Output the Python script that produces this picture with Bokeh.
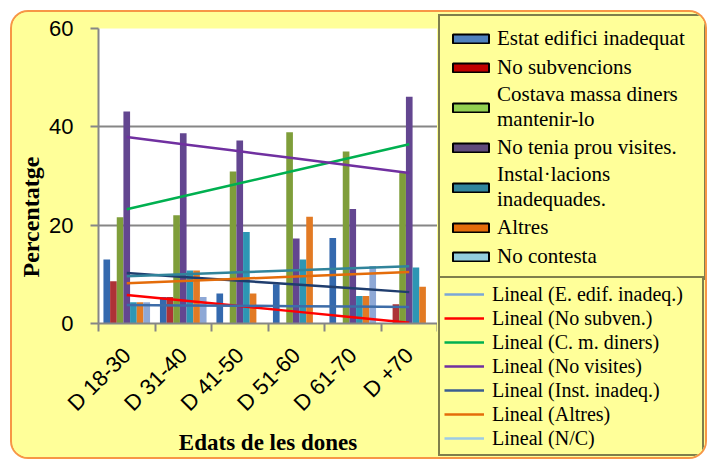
import numpy as np
from math import pi
from bokeh.plotting import figure
from bokeh.layouts import row
from bokeh.models import (Range1d, FixedTicker, Legend, LegendItem, Title,
                          ColumnDataSource)
from bokeh.transform import dodge
from bokeh.embed import file_html
from bokeh.resources import INLINE

# ---------------- data ----------------
categories = ["D 18-30", "D 31-40", "D 41-50", "D 51-60", "D 61-70", "D +70"]
series_names = ["Estat edifici inadequat", "No subvencions",
                "Costava massa diners\nmantenir-lo", "No tenia prou visites.",
                "Instal\u00b7lacions\ninadequades.", "Altres", "No contesta"]
estat_edifici = [13.0, 5.4, 6.1, 8.0, 17.4, 0.0]
no_subvencions = [8.6, 5.4, 0.0, 0.0, 0.0, 3.9]
costava_diners = [21.6, 22.0, 30.9, 38.9, 35.0, 30.7]
no_visites = [43.1, 38.7, 37.2, 17.3, 23.3, 46.1]
installacions = [4.3, 10.8, 18.6, 13.0, 5.6, 11.4]
altres = [4.3, 10.8, 6.1, 21.7, 5.6, 7.5]
no_contesta = [4.3, 5.4, 0.0, 0.0, 11.7, 0.0]
trend_names = ["Lineal (E. edif. inadeq.)", "Lineal (No subven.)",
               "Lineal (C. m. diners)", "Lineal (No visites)",
               "Lineal (Inst. inadeq.)", "Lineal (Altres)", "Lineal (N/C)"]
y_ticks = [0, 20, 40, 60]

series = [estat_edifici, no_subvencions, costava_diners, no_visites,
          installacions, altres, no_contesta]

# ---------------- styles ----------------
bar_colors = ["#3469AE", "#AE3236", "#7F9E3A", "#634690", "#2D96B4", "#E27A24", "#8EA8D6"]
legend_fill = ["#4F81BD", "#C00000", "#92D050", "#604A7B", "#31859C", "#E46C0A", "#93CDDD"]
trend_colors = ["#1F3D6E", "#FF0000", "#00B050", "#7030A0", "#31849B", "#E46C0A", "#3D6CA8"]
trend_legend_colors = ["#7BA7D7", "#FF0000", "#00B050", "#7030A0", "#3B5E91", "#E46C0A", "#9DCBE6"]
YELLOW = "#FFFF99"
GRAY = "#868686"
SANS = "Liberation Sans"
SERIF = "Liberation Serif"

n = len(categories)
centers = [i + 0.5 for i in range(n)]
src = ColumnDataSource({"x": centers, **{f"s{j}": s for j, s in enumerate(series)}})

# ---------------- main chart ----------------
p = figure(width=425, height=445, x_range=Range1d(0, n), y_range=Range1d(0, 60),
           output_backend="svg", toolbar_location=None,
           min_border_left=83, min_border_right=0, min_border_top=16,
           min_border_bottom=134, background_fill_color="white",
           border_fill_color=YELLOW, outline_line_color=None)
p.frame_align = False

ya = p.yaxis[0]
ya.ticker = FixedTicker(ticks=y_ticks)
ya.axis_line_color = GRAY
ya.axis_line_width = 2
ya.major_tick_line_color = GRAY
ya.major_tick_line_width = 2
ya.major_tick_out = 8
ya.major_tick_in = 0
ya.minor_tick_line_color = None
ya.major_label_standoff = 17
ya.major_label_text_font = SANS
ya.major_label_text_font_size = "22px"
ya.major_label_text_color = "black"

xa = p.xaxis[0]
xa.ticker = FixedTicker(ticks=centers, minor_ticks=list(range(n + 1)))
xa.major_label_overrides = {c: cat for c, cat in zip(centers, categories)}
xa.major_label_orientation = pi / 4
xa.major_label_standoff = 20
xa.major_label_text_font = SANS
xa.major_label_text_font_size = "22px"
xa.major_label_text_color = "black"
xa.axis_line_color = GRAY
xa.axis_line_width = 2
xa.major_tick_line_color = None
xa.major_tick_out = 8
xa.major_tick_in = 0
xa.minor_tick_line_color = GRAY
xa.minor_tick_line_width = 2
xa.minor_tick_out = 8
xa.minor_tick_in = 0
xa.axis_label = "Edats de les dones"
xa.axis_label_text_font = SERIF
xa.axis_label_text_font_style = "bold"
xa.axis_label_text_font_size = "23px"
xa.axis_label_text_color = "black"
xa.axis_label_standoff = 2

p.ygrid.ticker = FixedTicker(ticks=y_ticks)
p.ygrid.grid_line_color = GRAY
p.ygrid.grid_line_width = 2
p.xgrid.visible = False

# y title, placed lower along the axis like the original
p.add_layout(Title(text="Percentatge", align="left", offset=46,
                   text_font=SERIF, text_font_style="bold",
                   text_font_size="24px", text_color="black", standoff=6), "left")

# bars
bw = 0.825 / len(series)
for j, col in enumerate(bar_colors):
    p.vbar(x=dodge("x", (j - 3) * bw, range=p.x_range), top=f"s{j}", width=bw,
           source=src, fill_color=col, line_color=None)

# linear trend lines (least squares on each series)
idx = np.arange(1, n + 1)
for j, s in enumerate(series):
    coef = np.polyfit(idx, np.array(s), 1)
    p.line(x=centers, y=np.polyval(coef, idx), line_color=trend_colors[j], line_width=2.5)

# ---------------- legend panel ----------------
q = figure(width=268, height=445, x_range=Range1d(0, 1), y_range=Range1d(0, 1),
           output_backend="svg", toolbar_location=None,
           x_axis_location=None, y_axis_location=None,
           min_border=0, background_fill_color=YELLOW,
           border_fill_color=YELLOW, outline_line_color=None)
q.frame_align = False
q.grid.visible = False

# legend proxies (a single undrawn point each)
items1 = []
for j, name in enumerate(series_names):
    r = q.vbar(x=[np.nan], top=[np.nan], width=0.1, fill_color=legend_fill[j],
               line_color="black", line_width=2)
    items1.append(LegendItem(label=name, renderers=[r]))
items2 = []
for j, name in enumerate(trend_names):
    r = q.line(x=[np.nan], y=[np.nan], line_color=trend_legend_colors[j], line_width=2.5)
    items2.append(LegendItem(label=name, renderers=[r]))

leg1 = Legend(items=items1, location=(1, 177), padding=8, spacing=1,
              glyph_width=45, glyph_height=11, label_standoff=4,
              label_width=199, label_height=28,
              label_text_font=SERIF, label_text_font_size="21px",
              label_text_color="black",
              background_fill_color=YELLOW, background_fill_alpha=1,
              border_line_color="black", border_line_width=2)
leg2 = Legend(items=items2, location=(1, 1), padding=4, spacing=0,
              glyph_width=40, glyph_height=12, label_standoff=8,
              label_width=206, label_height=24,
              label_text_font=SERIF, label_text_font_size="20px",
              label_text_color="black",
              background_fill_color=YELLOW, background_fill_alpha=1,
              border_line_color="black", border_line_width=2)
q.add_layout(leg1, "center")
q.add_layout(leg2, "center")

layout = row(p, q, spacing=0,
             styles={"margin-left": "12px", "margin-top": "12px",
                     "background-color": YELLOW, "border-radius": "16px",
                     "overflow": "hidden", "box-shadow": "0 0 0 2px #F79646"})

open("out.html", "w").write(file_html(layout, INLINE))
